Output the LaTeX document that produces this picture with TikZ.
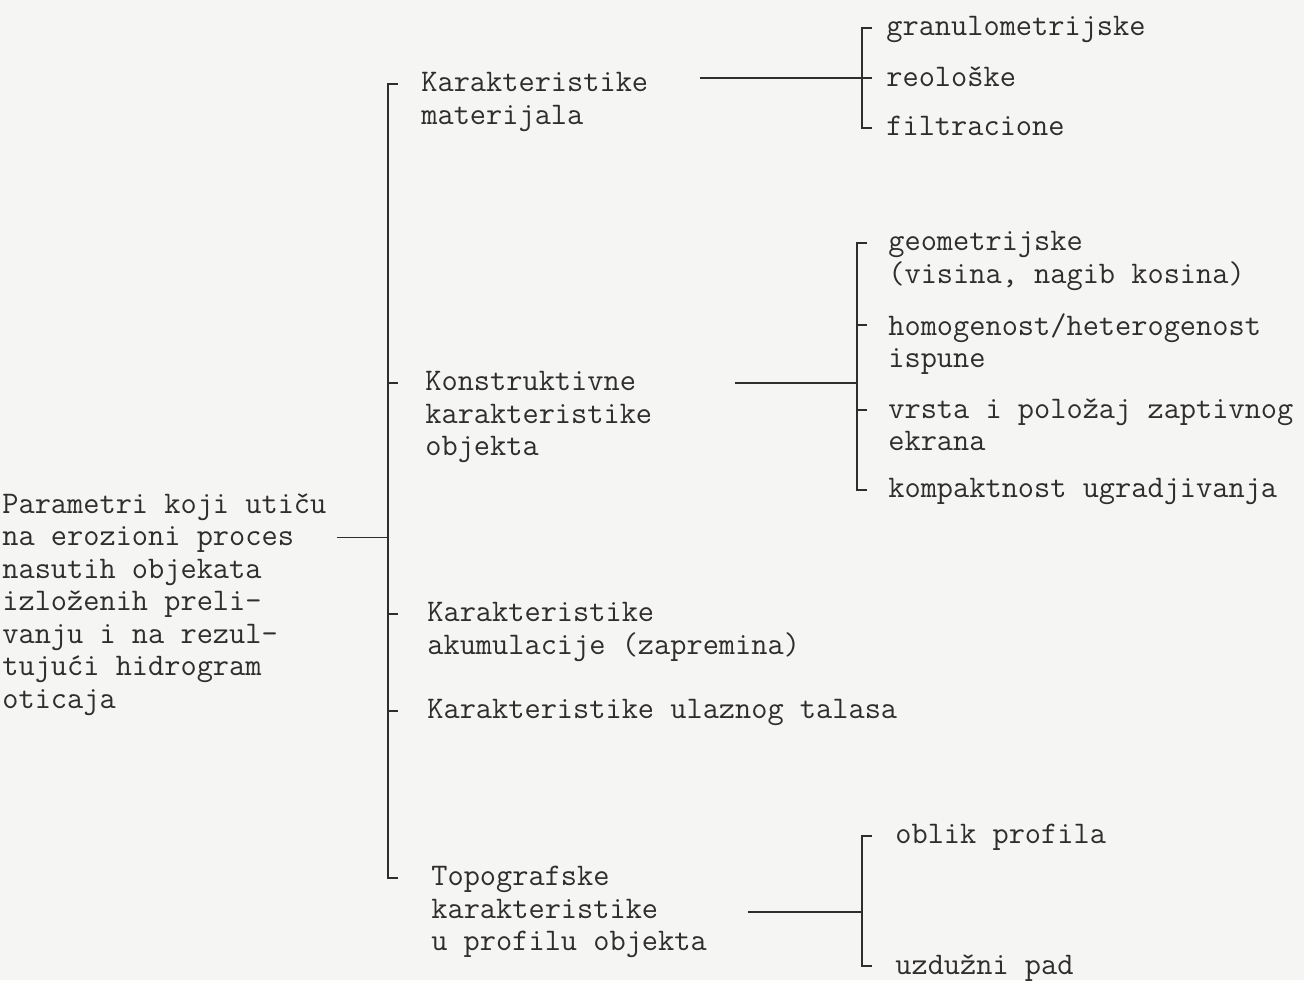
\documentclass[tikz,border=0pt]{standalone}
\usepackage{fontspec}
\usepackage{xcolor}
\usepackage{tikz}
\usetikzlibrary{positioning}
\definecolor{ink}{RGB}{48, 46, 44}
\definecolor{paper}{RGB}{245, 245, 243}

\begin{document}
\begin{tikzpicture}[
    x=0.2mm, y=-0.2mm,
    entry/.style={anchor=north west, align=left, inner sep=0pt, text=ink, font=\ttfamily\fontsize{17.9}{18.5}\selectfont},
    branch/.style={draw=ink, line width=1pt}
]
    % Page
    \fill[paper] (0, 0) rectangle (1304, 980);
    \useasboundingbox (0, 0) rectangle (1304, 980);

    % Root
    \node[entry] (root) at (2, 493) {Parametri koji utiču\\na erozioni proces\\nasutih objekata\\izloženih preli-\\vanju i na rezul-\\tujući hidrogram\\oticaja};

    % Level 1
    \node[entry] (mat) at (421, 72) {Karakteristike\\materijala};
    \node[entry] (kon) at (425, 371) {Konstruktivne\\karakteristike\\objekta};
    \node[entry] (aku) at (427, 602) {Karakteristike\\akumulacije (zapremina)};
    \node[entry] (ula) at (427, 699) {Karakteristike ulaznog talasa};
    \node[entry] (topo) at (431, 866) {Topografske\\karakteristike\\u profilu objekta};

    % Level 2: materijal
    \node[entry] (gra) at (886, 16) {granulometrijske};
    \node[entry] (reo) at (886, 66) {reološke};
    \node[entry] (fil) at (886, 116) {filtracione};

    % Level 2: konstrukcija
    \node[entry] (geo) at (888, 231) {geometrijske\\(visina, nagib kosina)};
    \node[entry] (hom) at (888, 313) {homogenost/heterogenost\\ispune};
    \node[entry] (vrs) at (888, 398) {vrsta i položaj zaptivnog\\ekrana};
    \node[entry] (kom) at (888, 478) {kompaktnost ugradjivanja};

    % Level 2: topografija
    \node[entry] (obl) at (895, 824) {oblik profila};
    \node[entry] (uzd) at (895, 954) {uzdužni pad};

    % First-line points
    \foreach \n in {mat, kon, aku, ula, topo, gra, reo, fil, geo, hom, vrs, kom, obl, uzd}
        \coordinate (\n1) at ([yshift=-2.4mm]\n.north west);
    \coordinate (root2) at ([yshift=-8.9mm]root.north east);
    \coordinate (trunk) at (388, 0);
    \coordinate (fork1) at (862, 0);
    \coordinate (fork2) at (857, 0);
    \coordinate (fork3) at (862, 0);

    % Trunk
    \draw[branch] ([xshift=2mm]root2) -- (trunk |- root2);
    \draw[branch] (trunk |- mat1) ++(10, 0) -- (trunk |- mat1) -- (trunk |- topo1) -- ++(10, 0);
    \foreach \n in {kon1, aku1, ula1}
        \draw[branch] (trunk |- \n) -- ++(10, 0);

    % Bracket: materijal
    \draw[branch] (fork1 |- gra1) ++(10, 0) -- (fork1 |- gra1) -- (fork1 |- fil1) -- ++(10, 0);
    \draw[branch] (700, 0 |- reo1) -- (fork1 |- reo1) -- ++(10, 0);

    % Bracket: konstrukcija
    \draw[branch] (fork2 |- geo1) ++(10, 0) -- (fork2 |- geo1) -- (fork2 |- kom1) -- ++(10, 0);
    \foreach \n in {hom1, vrs1}
        \draw[branch] (fork2 |- \n) -- ++(10, 0);
    \draw[branch] (735, 0 |- kon1) -- (fork2 |- kon1);

    % Bracket: topografija
    \draw[branch] (fork3 |- obl1) ++(10, 0) -- (fork3 |- obl1) -- (fork3 |- uzd1) -- ++(10, 0);
    \draw[branch] (748, 0 |- topo.west) -- (fork3 |- topo.west);
\end{tikzpicture}
\end{document}
